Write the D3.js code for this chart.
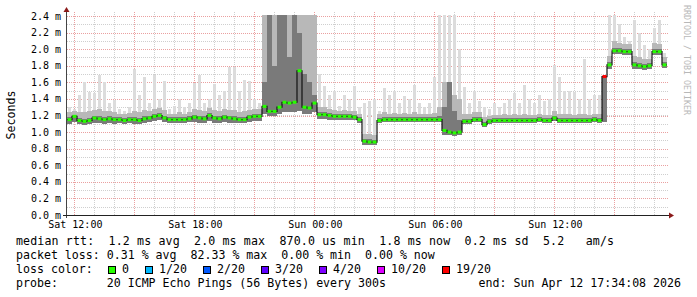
<!DOCTYPE html>
<html>
<head>
<meta charset="utf-8">
<script src="https://cdn.jsdelivr.net/npm/d3@7"></script>
<style>
  html, body { margin: 0; padding: 0; background: #fff; }
  svg text { font-family: "DejaVu Sans Mono", monospace; white-space: pre; }
</style>
</head>
<body>
<div id="smokeGraph"></div>
<script>
// samples every 15 min, from Sat Apr 11 11:38
var startTime = new Date(2026, 3, 11, 11, 38, 0);
var endTime = new Date(2026, 3, 12, 17, 38, 0);
var stepMinutes = 15;

// median rtt, ms
var median = [
  1.15, 1.19, 1.14, 1.13, 1.14, 1.17, 1.16, 1.15, 1.16, 1.15,
  1.15, 1.14, 1.15, 1.15, 1.14, 1.16, 1.17, 1.19, 1.20, 1.17,
  1.15, 1.15, 1.15, 1.15, 1.16, 1.18, 1.17, 1.16, 1.20, 1.17,
  1.16, 1.18, 1.17, 1.16, 1.15, 1.15, 1.18, 1.19, 1.19, 1.31,
  1.25, 1.25, 1.30, 1.36, 1.35, 1.36, 1.74, 1.30, 1.29, 1.35,
  1.21, 1.21, 1.20, 1.19, 1.19, 1.19, 1.19, 1.18, 1.15, 0.89,
  0.88, 0.88, 1.14, 1.15, 1.15, 1.15, 1.15, 1.15, 1.15, 1.15,
  1.15, 1.15, 1.15, 1.15, 1.15, 1.02, 1.00, 0.99, 1.00, 1.13,
  1.13, 1.15, 1.15, 1.09, 1.13, 1.14, 1.14, 1.14, 1.14, 1.14,
  1.14, 1.14, 1.14, 1.14, 1.15, 1.14, 1.14, 1.17, 1.14, 1.14,
  1.14, 1.14, 1.14, 1.14, 1.14, 1.15, 1.14, 1.67, 1.81, 1.98,
  1.98, 1.97, 1.97, 1.81, 1.80, 1.79, 1.80, 1.97, 1.97, 1.81
];

// fastest ping of each round
var smokeLo = [
  1.10, 1.12, 1.10, 1.09, 1.10, 1.11, 1.11, 1.10, 1.11, 1.10,
  1.11, 1.10, 1.11, 1.10, 1.10, 1.11, 1.12, 1.13, 1.14, 1.12,
  1.11, 1.11, 1.11, 1.11, 1.12, 1.12, 1.11, 1.11, 1.13, 1.11,
  1.11, 1.12, 1.11, 1.11, 1.11, 1.11, 1.12, 1.13, 1.13, 1.22,
  1.20, 1.20, 1.22, 1.24, 1.24, 1.24, 1.25, 1.22, 1.22, 1.24,
  1.16, 1.16, 1.15, 1.15, 1.15, 1.15, 1.14, 1.14, 1.11, 0.85,
  0.85, 0.84, 1.11, 1.12, 1.12, 1.12, 1.12, 1.12, 1.12, 1.12,
  1.12, 1.12, 1.12, 1.12, 1.12, 0.97, 0.96, 0.95, 0.96, 1.10,
  1.10, 1.12, 1.12, 1.06, 1.10, 1.11, 1.11, 1.11, 1.11, 1.11,
  1.11, 1.11, 1.11, 1.11, 1.12, 1.11, 1.11, 1.13, 1.11, 1.11,
  1.11, 1.11, 1.11, 1.11, 1.11, 1.12, 1.11, 1.12, 1.76, 1.94,
  1.94, 1.93, 1.93, 1.76, 1.76, 1.75, 1.76, 1.93, 1.93, 1.77
];

// dense part of the smoke
var smokeMid = [
  1.18, 1.21, 1.17, 1.16, 1.17, 1.20, 1.19, 1.18, 1.19, 1.18,
  1.18, 1.17, 1.18, 1.18, 1.17, 1.19, 1.20, 1.22, 1.23, 1.20,
  1.18, 1.18, 1.18, 1.18, 1.19, 1.21, 1.20, 1.19, 1.23, 1.20,
  1.19, 1.21, 1.20, 1.19, 1.18, 1.18, 1.21, 1.22, 1.22, 1.60,
  2.50, 1.80, 2.50, 2.50, 1.90, 2.50, 2.20, 1.70, 1.60, 1.45,
  1.24, 1.24, 1.23, 1.22, 1.22, 1.22, 1.22, 1.21, 1.18, 0.92,
  0.92, 0.91, 1.17, 1.18, 1.18, 1.18, 1.18, 1.18, 1.18, 1.18,
  1.18, 1.18, 1.18, 1.18, 1.20, 1.30, 1.60, 1.25, 1.15, 1.16,
  1.16, 1.18, 1.18, 1.12, 1.16, 1.17, 1.17, 1.17, 1.17, 1.17,
  1.17, 1.17, 1.17, 1.17, 1.18, 1.17, 1.17, 1.20, 1.17, 1.17,
  1.17, 1.17, 1.17, 1.17, 1.17, 1.18, 1.17, 1.68, 1.84, 2.01,
  2.01, 2.00, 2.00, 1.84, 1.83, 1.82, 1.83, 2.00, 2.00, 1.84
];

// upper spread of the smoke
var smokeHi = [
  1.24, 1.26, 1.24, 1.24, 1.25, 1.27, 1.28, 1.25, 1.25, 1.24,
  1.22, 1.22, 1.23, 1.25, 1.24, 1.27, 1.26, 1.28, 1.29, 1.27,
  1.22, 1.22, 1.24, 1.22, 1.24, 1.28, 1.27, 1.25, 1.29, 1.27,
  1.25, 1.28, 1.27, 1.27, 1.24, 1.25, 1.27, 1.28, 1.28, 2.50,
  2.50, 2.50, 2.50, 2.50, 2.50, 2.50, 2.50, 2.50, 2.50, 2.50,
  1.30, 1.30, 1.28, 1.27, 1.26, 1.27, 1.26, 1.25, 1.22, 0.98,
  0.98, 0.97, 1.22, 1.24, 1.22, 1.23, 1.22, 1.23, 1.22, 1.24,
  1.22, 1.22, 1.22, 1.23, 1.30, 1.60, 1.50, 1.45, 1.40, 1.22,
  1.22, 1.24, 1.24, 1.18, 1.20, 1.21, 1.21, 1.22, 1.21, 1.22,
  1.21, 1.22, 1.21, 1.21, 1.22, 1.21, 1.21, 1.26, 1.22, 1.22,
  1.22, 1.21, 1.22, 1.22, 1.21, 1.22, 1.22, 1.68, 1.92, 2.10,
  2.08, 2.06, 2.06, 1.92, 1.90, 1.88, 1.88, 2.08, 2.06, 1.90
];

// slowest ping of each round
var smokeTop = [
  1.30, 1.28, 1.45, 1.60, 1.48, 1.47, 1.69, 1.60, 1.35, 1.39,
  1.28, 1.25, 1.30, 1.76, 1.45, 1.66, 1.35, 1.69, 1.40, 1.62,
  1.28, 1.32, 1.40, 1.30, 1.35, 1.59, 1.69, 1.35, 1.40, 1.58,
  1.45, 1.50, 1.78, 1.78, 1.50, 1.63, 1.62, 1.40, 1.35, 2.50,
  2.50, 2.50, 2.50, 2.50, 2.50, 2.50, 2.50, 2.50, 2.50, 2.50,
  1.70, 1.55, 1.45, 1.50, 1.32, 1.45, 1.40, 1.55, 1.30, 1.35,
  1.38, 1.40, 1.25, 1.53, 1.45, 1.50, 1.35, 1.44, 1.40, 1.57,
  1.35, 1.30, 1.35, 1.67, 2.50, 2.50, 2.50, 2.50, 2.00, 1.54,
  1.35, 1.49, 1.38, 1.30, 1.28, 1.35, 1.30, 1.35, 1.40, 1.47,
  1.35, 1.57, 1.40, 1.35, 1.45, 1.38, 1.40, 1.81, 1.67, 1.50,
  1.50, 1.48, 1.40, 1.88, 1.40, 1.45, 1.45, 1.68, 2.50, 2.50,
  2.30, 2.15, 2.10, 2.35, 2.20, 2.05, 2.00, 2.25, 2.35, 1.95
];

// lost pings out of 20
var loss = [
  0, 0, 0, 0, 0, 0, 0, 0, 0, 0, 0, 0, 0, 0, 0, 0, 0, 0, 0, 0,
  0, 0, 0, 0, 0, 0, 0, 0, 0, 0, 0, 0, 0, 0, 0, 0, 0, 0, 0, 0,
  0, 0, 0, 0, 0, 0, 0, 0, 0, 0, 0, 0, 0, 0, 0, 0, 0, 0, 0, 0,
  0, 0, 0, 0, 0, 0, 0, 0, 0, 0, 0, 0, 0, 0, 0, 0, 0, 0, 0, 0,
  0, 0, 0, 0, 0, 0, 0, 0, 0, 0, 0, 0, 0, 0, 0, 0, 0, 0, 0, 0,
  0, 0, 0, 0, 0, 0, 0, 19, 0, 0, 0, 0, 0, 0, 0, 0, 0, 0, 0, 0
];

var lossLevels = [0, 1, 2, 3, 4, 10, 19];
var lossLabels = ["0", "1/20", "2/20", "3/20", "4/20", "10/20", "19/20"];
var lossColors = ["#26ff00", "#00b8ff", "#0059ff", "#5e00ff", "#7e00ff", "#dd00ff", "#ff0000"];

var yTicks = [0, 0.2, 0.4, 0.6, 0.8, 1.0, 1.2, 1.4, 1.6, 1.8, 2.0, 2.2, 2.4];

var legendLines = [
  "median rtt:  1.2 ms avg  2.0 ms max  870.0 us min  1.8 ms now  0.2 ms sd  5.2   am/s",
  "packet loss: 0.31 % avg  82.33 % max  0.00 % min  0.00 % now"
];
var probeText = "probe:       20 ICMP Echo Pings (56 Bytes) every 300s";
var endText = "end: Sun Apr 12 17:34:08 2026";

(function () {
  'use strict';

  var width = 697, height = 297;
  var left = 67, right = 667, top = 16, bottom = 215;
  var charW = 7;

  var svg = d3.select("#smokeGraph").append("svg")
    .attr("width", width)
    .attr("height", height);

  svg.append("rect")
    .attr("width", width).attr("height", height)
    .attr("fill", "#fff");

  var times = median.map(function (d, i) {
    return d3.timeMinute.offset(startTime, i * stepMinutes);
  });

  var x = d3.scaleTime().domain([startTime, endTime]).range([left, right]);
  var y = d3.scaleLinear().domain([0, 2.4]).range([bottom, top]);

  var lossColor = function (l) {
    var k = 0;
    lossLevels.forEach(function (lv, j) { if (l >= lv) k = j; });
    return lossColors[k];
  };

  // grid
  var grid = svg.append("g").attr("class", "grid");
  var minorY = d3.range(0, 2.45, 0.1);
  grid.selectAll(".minorY").data(minorY)
    .enter().append("line")
    .attr("x1", left).attr("x2", right + 2)
    .attr("y1", function (d) { return Math.round(y(d)) + 0.5; })
    .attr("y2", function (d) { return Math.round(y(d)) + 0.5; })
    .attr("stroke", "#cfcfcf")
    .attr("stroke-dasharray", "1,1");

  grid.selectAll(".minorX").data(d3.timeHour.every(1).range(startTime, endTime))
    .enter().append("line")
    .attr("x1", function (d) { return Math.round(x(d)) + 0.5; })
    .attr("x2", function (d) { return Math.round(x(d)) + 0.5; })
    .attr("y1", top - 4).attr("y2", bottom)
    .attr("stroke", "#cfcfcf")
    .attr("stroke-dasharray", "1,1");

  grid.selectAll(".majorY").data(yTicks.slice(1))
    .enter().append("line")
    .attr("x1", left).attr("x2", right + 2)
    .attr("y1", function (d) { return Math.round(y(d)) + 0.5; })
    .attr("y2", function (d) { return Math.round(y(d)) + 0.5; })
    .attr("stroke", "#eaa0a0")
    .attr("stroke-dasharray", "1,1");

  grid.selectAll(".majorX").data(d3.timeHour.every(3).range(startTime, endTime))
    .enter().append("line")
    .attr("x1", function (d) { return Math.round(x(d)) + 0.5; })
    .attr("x2", function (d) { return Math.round(x(d)) + 0.5; })
    .attr("y1", top - 4).attr("y2", bottom)
    .attr("stroke", "#eaa0a0")
    .attr("stroke-dasharray", "1,1");

  // smoke
  svg.append("clipPath").attr("id", "plotClip")
    .append("rect")
    .attr("x", left).attr("y", top - 1)
    .attr("width", right - left + 1).attr("height", bottom - top + 1);

  var plot = svg.append("g").attr("clip-path", "url(#plotClip)");
  var slotW = x(times[1]) - x(times[0]);

  var smokeLayer = function (upper, color, inset) {
    plot.append("g").selectAll("rect").data(times)
      .enter().append("rect")
      .attr("x", function (d) { return x(d) + inset; })
      .attr("width", slotW - 2 * inset)
      .attr("y", function (d, i) { return y(upper[i]); })
      .attr("height", function (d, i) { return Math.max(0, y(smokeLo[i]) - y(upper[i])); })
      .attr("fill", color)
      .attr("shape-rendering", "crispEdges");
  };
  smokeLayer(smokeTop, "#dcdcdc", 1);
  smokeLayer(smokeHi, "#b8b8b8", 0);
  smokeLayer(smokeMid, "#7a7a7a", 0);

  // median
  var medLine = d3.line()
    .x(function (d) { return x(d[0]); })
    .y(function (d) { return y(d[1]); })
    .curve(d3.curveStepAfter);
  var medPts = times.map(function (t, i) { return [t, median[i]]; });
  medPts.push([endTime, median[median.length - 1]]);

  plot.append("path")
    .datum(medPts)
    .attr("d", medLine)
    .attr("fill", "none")
    .attr("stroke", "#111")
    .attr("stroke-width", 1.2);

  plot.append("g").selectAll("rect").data(times)
    .enter().append("rect")
    .attr("x", function (d) { return x(d) + 0.5; })
    .attr("width", slotW - 1)
    .attr("y", function (d, i) { return y(median[i]) - 1.5; })
    .attr("height", 3)
    .attr("fill", function (d, i) { return lossColor(loss[i]); });

  // axes
  svg.append("line")
    .attr("x1", left - 0.5).attr("x2", left - 0.5)
    .attr("y1", bottom + 3).attr("y2", top - 5)
    .attr("stroke", "#444");
  svg.append("line")
    .attr("x1", left - 4).attr("x2", right + 4)
    .attr("y1", bottom + 0.5).attr("y2", bottom + 0.5)
    .attr("stroke", "#222");
  svg.append("path")
    .attr("d", "M" + (left - 3.5) + "," + (top - 4) + "L" + (left - 0.5) + "," + (top - 9) + "L" + (left + 2.5) + "," + (top - 4) + "Z")
    .attr("fill", "#8b1a1a");
  svg.append("path")
    .attr("d", "M" + (right + 2) + "," + (bottom - 2.5) + "L" + (right + 7) + "," + (bottom + 0.5) + "L" + (right + 2) + "," + (bottom + 3.5) + "Z")
    .attr("fill", "#8b1a1a");

  svg.append("g").selectAll("text").data(yTicks)
    .enter().append("text")
    .attr("x", 61)
    .attr("y", function (d) { return y(d) + 3.5; })
    .attr("text-anchor", "end")
    .style("font-size", "10px")
    .attr("fill", "#000")
    .text(function (d) { return d3.format(".1f")(d) + " m"; });

  svg.append("g").selectAll("text").data(d3.timeHour.every(6).range(startTime, endTime))
    .enter().append("text")
    .attr("x", function (d) { return x(d) + 1; })
    .attr("y", 228)
    .attr("text-anchor", "middle")
    .style("font-size", "10px")
    .attr("fill", "#000")
    .text(function (d) { return d3.timeFormat("%a %H:%M")(d); });

  svg.append("text")
    .attr("transform", "translate(15,115) rotate(-90)")
    .attr("text-anchor", "middle")
    .style("font-size", "11.6px")
    .text("Seconds");

  svg.append("text")
    .attr("transform", "translate(684,5) rotate(90)")
    .attr("text-anchor", "start")
    .style("font-size", "8.3px")
    .attr("fill", "#b8b8b8")
    .text("RRDTOOL / TOBI OETIKER");

  // legend
  var legend = svg.append("g").style("font-size", "11.6px");
  legend.selectAll(".stat").data(legendLines)
    .enter().append("text")
    .attr("x", 16)
    .attr("y", function (d, i) { return 245 + i * 14; })
    .text(function (d) { return d; })
    .each(function (d, i) {
      // the rtt line is stretched a little in the original
      if (i === 0) d3.select(this).attr("textLength", 598).attr("lengthAdjust", "spacing");
    });

  legend.append("text").attr("x", 16).attr("y", 273).text("loss color:");
  var lx = 108;
  lossLabels.forEach(function (lab, j) {
    legend.append("rect")
      .attr("x", lx + 0.5).attr("y", 266.5)
      .attr("width", 7).attr("height", 7)
      .attr("fill", lossColors[j])
      .attr("stroke", "#000");
    legend.append("text")
      .attr("x", lx + 14).attr("y", 273)
      .text(lab);
    lx += 30 + lab.length * charW;
  });

  legend.append("text").attr("x", 16).attr("y", 287).text(probeText);
  legend.append("text").attr("x", 681).attr("y", 287)
    .attr("text-anchor", "end")
    .text(endText);
})();
</script>
</body>
</html>
